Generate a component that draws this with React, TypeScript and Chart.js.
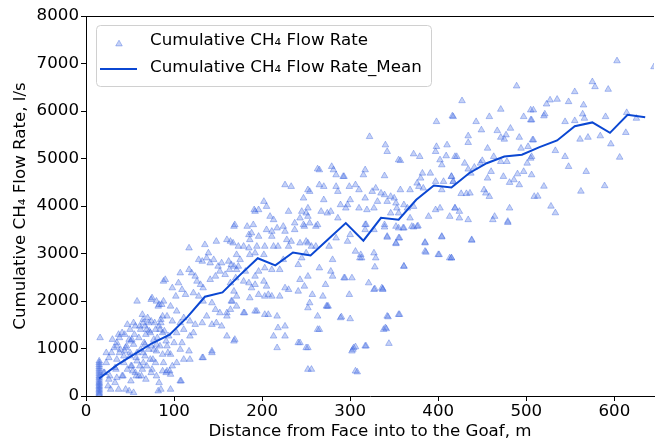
import React, { useEffect, useRef } from 'react';
import { Chart, registerables } from 'chart.js';

Chart.register(...registerables);

// ---------- data ----------
const xTitle = 'Distance from Face into to the Goaf, m';
const yTitle = 'Cumulative CH\u2084 Flow Rate, l/s';
const legendLabels = ['Cumulative CH\u2084 Flow Rate', 'Cumulative CH\u2084 Flow Rate_Mean'];

const xTickStep = 100;
const yTickStep = 1000;
const xMax = 645;
const yMax = 8000;

// mean line
const meanDistance = [15, 35, 55, 75, 95, 115, 135, 155, 175, 195, 215, 235, 255, 275, 295, 315, 335, 355, 375, 395, 415, 435, 455, 475, 495, 515, 535, 555, 575, 595, 615, 635];
const meanFlow = [370, 650, 880, 1110, 1290, 1660, 2090, 2180, 2550, 2900, 2750, 3020, 2960, 3300, 3640, 3270, 3750, 3710, 4130, 4430, 4390, 4690, 4900, 5040, 5080, 5240, 5380, 5680, 5760, 5540, 5920, 5870];

// points measured at the first station (15 m)
const firstStationDistance = 15;
const firstStationFlow = [10, 40, 70, 100, 130, 160, 190, 220, 250, 280, 310, 350, 390, 420, 460, 500, 540, 580, 620, 660, 700, 735];

// scatter: [distance, flow]
const scatterNear: number[][] = [
  [16, 1225], [26, 805], [26, 350], [30, 1190], [32, 1015], [28, 140], [35, 1120], [35, 385], [37, 1295], [39, 980],
  [41, 1330], [41, 420], [43, 840], [45, 140], [47, 1505], [47, 560], [49, 1190], [50, 1400], [52, 630], [54, 1540],
  [54, 70], [56, 1470], [56, 490], [58, 1995], [60, 1225], [60, 420], [62, 1400], [64, 1715], [64, 560], [65, 1610],
  [65, 700], [67, 1470], [67, 840], [69, 1400], [69, 630], [71, 1540], [73, 1330], [73, 770], [75, 2065], [75, 560],
  [77, 1190], [79, 1400], [79, 700], [80, 1995], [82, 1890], [82, 105], [84, 1400], [86, 1925], [88, 2415], [50, 910],
  [58, 910], [62, 980], [43, 700], [34, 560], [20, 490], [54, 1085], [45, 1015], [52, 1190], [67, 1085], [71, 980],
  [77, 980], [80, 1085], [84, 1050], [37, 140], [49, 105], [58, 735], [23, 910], [74, 2030],
  [27, 420], [33, 595], [35, 770], [38, 910], [44, 945], [46, 1050], [50, 840], [51, 630], [53, 525], [57, 805],
  [61, 630], [65, 910], [66, 1120], [68, 1295], [72, 1365], [74, 1050], [76, 770], [80, 945], [81, 1225], [83, 1470],
  [85, 1610], [87, 1680], [89, 1365], [91, 1155], [93, 910], [95, 525], [96, 455], [98, 630], [61, 1470], [65, 1540],
  [70, 1645], [74, 1575], [78, 1540], [55, 1295], [51, 1155], [44, 1295], [38, 1225], [35, 1050], [29, 910], [23, 700],
  [21, 490], [25, 210], [33, 280], [42, 420], [51, 315], [57, 420], [63, 420], [68, 350], [74, 490], [80, 420],
  [87, 525], [91, 490],
];

const scatterMid: number[][] = [
  [117, 3115], [135, 3185], [148, 3255], [160, 3290], [167, 3220], [169, 3605], [128, 2870], [132, 2835], [139, 3010], [137, 2905],
  [141, 2800], [145, 2870], [150, 2730], [154, 2800], [162, 2835], [165, 2765], [107, 2590], [117, 2660], [120, 2590], [124, 2520],
  [126, 2415], [130, 2345], [133, 2275], [141, 2450], [147, 2520], [152, 2625], [158, 2555], [163, 2660], [171, 2660], [90, 2450],
  [98, 2275], [105, 2380], [109, 2240], [102, 2100], [113, 2135], [122, 2170], [128, 2100], [133, 1995], [143, 1960], [147, 1820],
  [152, 1750], [160, 1680], [165, 1995], [171, 1890], [83, 1925], [88, 1995], [96, 1890], [103, 1785], [92, 1680], [85, 1540],
  [98, 1575], [107, 1540], [111, 1645], [118, 1575], [124, 1505], [132, 1540], [137, 1680], [143, 1505], [148, 1540], [154, 1470],
  [160, 1750], [87, 1330], [94, 1260], [103, 1330], [111, 1400], [118, 1260], [122, 1330], [92, 1050], [100, 1120], [107, 980],
  [109, 1120], [117, 945], [87, 875], [96, 875], [103, 700], [88, 700], [111, 770], [118, 770], [133, 805], [143, 945],
  [92, 525], [107, 315], [96, 140], [169, 1190], [160, 1260], [83, 280], [85, 140], [143, 910], [132, 805], [180, 1750],
  [194, 1785], [203, 1715], [241, 1120], [263, 1400], [273, 1890], [269, 2100], [108, 315],
  [226, 4445], [233, 4410], [252, 4340], [247, 4165], [202, 4095], [205, 3990], [192, 3885], [196, 3920], [230, 3885], [245, 3885],
  [250, 3850], [209, 3780], [213, 3710], [243, 3745], [237, 3640], [183, 3570], [190, 3605], [168, 3570], [224, 3570], [205, 3500],
  [211, 3465], [217, 3535], [226, 3465], [237, 3500], [247, 3605], [185, 3395], [188, 3430], [196, 3360], [186, 3290], [211, 3360],
  [228, 3290], [233, 3255], [243, 3220], [250, 3255], [164, 3255], [173, 3150], [179, 3150], [185, 3115], [194, 3150], [203, 3150],
  [213, 3150], [218, 3150], [230, 3150], [171, 2975], [175, 2870], [186, 2975], [192, 3010], [202, 2975], [203, 2695], [211, 2660],
  [220, 2660], [224, 2870], [241, 2765], [245, 2905], [168, 2730], [173, 2730], [181, 2625], [192, 2520], [196, 2625], [164, 2380],
  [170, 2485], [179, 2415], [185, 2380], [188, 2275], [192, 2345], [202, 2415], [205, 2310], [211, 2100], [220, 2100], [226, 2275],
  [230, 2240], [241, 2205], [243, 2450], [252, 2520], [168, 2205], [166, 1995], [171, 2100], [186, 2065], [196, 2135], [203, 2100],
  [207, 2135], [164, 1820], [179, 1750], [192, 1785], [207, 1715], [217, 1680], [252, 1855], [218, 1435], [226, 1470], [213, 1260],
  [226, 1260], [217, 1015], [243, 1120], [250, 1015], [168, 1155], [252, 560], [263, 4780], [191, 3920],
];

const scatterFar: number[][] = [
  [322, 5460], [317, 4760], [315, 4655], [265, 4760], [281, 4760], [293, 4620], [284, 4655], [254, 4305], [265, 4445], [270, 4410],
  [284, 4410], [286, 4305], [299, 4410], [306, 4445], [310, 4340], [317, 4165], [329, 4375], [325, 4305], [270, 4130], [289, 4025],
  [295, 3955], [297, 4025], [300, 4130], [310, 3955], [319, 3920], [327, 3955], [252, 3955], [252, 3780], [267, 3885], [274, 3850],
  [278, 3885], [286, 3745], [254, 3640], [261, 3570], [248, 3570], [263, 3605], [284, 3325], [317, 3605], [327, 3500], [317, 3500],
  [300, 3395], [252, 3220], [256, 3150], [250, 3010], [261, 3150], [276, 3150], [297, 3255], [306, 3045], [312, 2975], [313, 2905],
  [327, 3010], [329, 2905], [280, 2870], [265, 2695], [278, 2625], [280, 2520], [293, 2485], [302, 2485], [272, 2345], [248, 2310],
  [321, 2380], [327, 2240], [336, 2275], [299, 2135], [257, 2135], [254, 1960], [274, 1890], [263, 1680], [289, 1645], [300, 1625],
  [265, 1400], [252, 1015], [304, 1015], [317, 1050], [302, 945], [256, 560], [306, 525], [338, 1400], [279, 4830], [292, 4620],
  [290, 1665], [303, 980], [306, 1035], [308, 505], [318, 1050], [341, 1415], [343, 1665], [344, 1105], [356, 1715], [328, 2255],
  [337, 2255], [294, 2485], [361, 2730], [328, 2715], [311, 2905], [385, 3235], [386, 3025], [401, 2975], [404, 3345], [415, 2905],
  [438, 3275], [352, 3205], [356, 3325], [342, 3340], [339, 3555], [372, 3555], [377, 3580], [360, 3535], [318, 3610], [479, 3650],
  [462, 3710], [434, 3710], [275, 1890],
  [398, 5775], [416, 5895], [398, 5250], [397, 5145], [410, 5285], [409, 5055], [419, 5040], [402, 4970], [404, 4865], [340, 5285],
  [342, 5145], [372, 5095], [379, 5040], [355, 4970], [357, 4955], [391, 4690], [382, 4690], [380, 4585], [339, 4635], [397, 4515],
  [406, 4515], [415, 4620], [417, 4515], [376, 4480], [357, 4340], [368, 4340], [378, 4410], [383, 4375], [404, 4340], [335, 4270],
  [339, 4235], [346, 4200], [350, 4165], [342, 4095], [352, 4060], [361, 4025], [365, 3955], [372, 3990], [331, 4095], [402, 3955],
  [397, 3920], [419, 3955], [389, 3780], [413, 3780], [346, 3850], [353, 3955], [355, 3850], [368, 3745], [339, 3605], [352, 3570],
  [355, 3535], [361, 3535], [370, 3570], [376, 3570], [355, 3325], [352, 3220], [342, 3360], [385, 3220], [385, 3045], [404, 3360],
  [400, 2975], [413, 2905], [361, 2730], [337, 2240], [355, 1715], [342, 1680], [340, 1435],
  [489, 6525], [427, 6215], [471, 6035], [505, 6020], [417, 5880], [458, 5880], [497, 5880], [443, 5775], [505, 5810], [449, 5600],
  [467, 5585], [482, 5635], [434, 5475], [471, 5445], [475, 5405], [477, 5495], [492, 5445], [434, 5335], [507, 5390], [456, 5215],
  [494, 5215], [502, 5250], [421, 5040], [463, 5040], [450, 4955], [448, 4900], [430, 4900], [505, 5005], [471, 4935], [478, 4935],
  [501, 4900], [434, 4775], [441, 4815], [460, 4725], [437, 4690], [456, 4585], [474, 4620], [497, 4725], [490, 4675], [481, 4495],
  [486, 4550], [492, 4445], [415, 4620], [417, 4515], [426, 4260], [432, 4260], [436, 4270], [452, 4340], [454, 4270], [458, 4200],
  [419, 3955], [424, 3885], [424, 3745], [481, 3955], [464, 3780], [479, 3675], [438, 3290], [509, 4200], [415, 2905],
  [603, 7055], [645, 6930], [575, 6615], [578, 6510], [593, 6455], [555, 6405], [527, 6230], [535, 6245], [548, 6195], [523, 6145],
  [565, 6125], [508, 6020], [521, 5935], [520, 5895], [564, 5935], [566, 5845], [590, 5880], [614, 5965], [625, 5845], [544, 5775],
  [555, 5795], [506, 5810], [613, 5545], [561, 5405], [570, 5445], [584, 5475], [596, 5305], [508, 5390], [533, 5165], [544, 5040],
  [606, 5025], [506, 5040], [548, 4830], [568, 4725], [589, 4425], [520, 4415], [562, 4310], [513, 4205], [528, 3995], [533, 3855],
  [506, 4655],
];

// ---------- styles ----------
const FONT_FAMILY = "'DejaVu Sans', 'Liberation Sans', sans-serif";
const FONT_SIZE = 16.67;
const LINE_COLOR = '#0b47d2';
const POINT_FILL = 'rgba(65,105,225,0.3)';
const POINT_EDGE = 'rgba(65,105,225,0.4)';
const POINT_RADIUS = 3.8;

function drawTriangle(ctx: CanvasRenderingContext2D, x: number, y: number, r: number) {
  ctx.beginPath();
  ctx.moveTo(x, y - r);
  ctx.lineTo(x + r * 0.866, y + r / 2);
  ctx.lineTo(x - r * 0.866, y + r / 2);
  ctx.closePath();
  ctx.fillStyle = POINT_FILL;
  ctx.fill();
  ctx.strokeStyle = POINT_EDGE;
  ctx.lineWidth = 1;
  ctx.stroke();
}

const framePlugin = {
  id: 'frameAndLegend',
  afterDraw(chart: any) {
    const { ctx, chartArea: a } = chart;
    ctx.save();
    // top spine
    ctx.strokeStyle = '#000';
    ctx.lineWidth = 1;
    ctx.beginPath();
    ctx.moveTo(a.left, Math.round(a.top) + 0.5);
    ctx.lineTo(a.right, Math.round(a.top) + 0.5);
    ctx.stroke();

    // legend box
    const bx = a.left + 10.5;
    const by = a.top + 9.5;
    const bw = 335;
    const bh = 61;
    ctx.beginPath();
    if ((ctx as any).roundRect) (ctx as any).roundRect(bx, by, bw, bh, 4);
    else ctx.rect(bx, by, bw, bh);
    ctx.fillStyle = 'rgba(255,255,255,0.8)';
    ctx.fill();
    ctx.strokeStyle = '#d0d0d0';
    ctx.lineWidth = 1;
    ctx.stroke();

    // legend handles
    drawTriangle(ctx, a.left + 33, a.top + 28, POINT_RADIUS);
    ctx.beginPath();
    ctx.moveTo(a.left + 14, a.top + 53);
    ctx.lineTo(a.left + 51, a.top + 53);
    ctx.strokeStyle = LINE_COLOR;
    ctx.lineWidth = 2;
    ctx.stroke();

    // legend text
    ctx.fillStyle = '#000';
    ctx.font = `${FONT_SIZE}px ${FONT_FAMILY}`;
    ctx.textBaseline = 'middle';
    ctx.textAlign = 'left';
    ctx.fillText(legendLabels[0], a.left + 64, a.top + 25);
    ctx.fillText(legendLabels[1], a.left + 64, a.top + 52);
    ctx.restore();
  },
};

export default function App() {
  const canvasRef = useRef<HTMLCanvasElement | null>(null);

  useEffect(() => {
    document.body.style.margin = '0';
    const canvas = canvasRef.current;
    if (!canvas) return;

    const font = { family: FONT_FAMILY, size: FONT_SIZE };
    const plain = (v: any) => String(v);
    const scatterData = [
      ...firstStationFlow.map((y) => ({ x: firstStationDistance, y })),
      ...scatterNear.map(([x, y]) => ({ x, y })),
      ...scatterMid.map(([x, y]) => ({ x, y })),
      ...scatterFar.map(([x, y]) => ({ x, y })),
    ];
    const meanData = meanDistance.map((x, i) => ({ x, y: meanFlow[i] }));

    const chart = new Chart(canvas, {
      type: 'scatter',
      data: {
        datasets: [
          {
            label: legendLabels[1],
            data: meanData,
            showLine: true,
            borderColor: LINE_COLOR,
            backgroundColor: LINE_COLOR,
            borderWidth: 2,
            pointRadius: 0,
            tension: 0,
            fill: false,
            order: 0,
          },
          {
            label: legendLabels[0],
            data: scatterData,
            pointStyle: 'triangle',
            pointRadius: POINT_RADIUS,
            backgroundColor: POINT_FILL,
            borderColor: POINT_EDGE,
            borderWidth: 1,
            order: 1,
          },
        ],
      },
      options: {
        animation: false,
        responsive: false,
        devicePixelRatio: 1,
        layout: { padding: { top: 16, right: 0, left: 0, bottom: 0 } },
        plugins: {
          legend: { display: false },
          tooltip: { enabled: false },
        },
        scales: {
          x: {
            type: 'linear',
            min: 0,
            max: xMax,
            afterFit: (s: any) => {
              s.height = 47;
            },
            ticks: { stepSize: xTickStep, includeBounds: false, color: '#000', font, padding: 1, callback: plain },
            grid: { drawOnChartArea: false, drawTicks: true, tickLength: 5, color: '#000', tickWidth: 1 },
            border: { display: true, color: '#000', width: 1 },
            title: { display: true, text: xTitle, color: '#000', font, padding: { top: 0, bottom: 1 } },
          },
          y: {
            type: 'linear',
            min: 0,
            max: yMax,
            afterFit: (s: any) => {
              s.width = 86;
            },
            ticks: { stepSize: yTickStep, color: '#000', font, padding: 2, callback: plain },
            grid: { drawOnChartArea: false, drawTicks: true, tickLength: 5, color: '#000', tickWidth: 1 },
            border: { display: true, color: '#000', width: 1 },
            title: { display: true, text: yTitle, color: '#000', font, padding: { top: 11, bottom: 0 } },
          },
        },
      },
      plugins: [framePlugin],
    });

    return () => chart.destroy();
  }, []);

  return (
    <div style={{ width: 659, height: 443, position: 'relative' }}>
      <canvas ref={canvasRef} width={659} height={443} style={{ display: 'block', width: 659, height: 443 }} />
    </div>
  );
}
